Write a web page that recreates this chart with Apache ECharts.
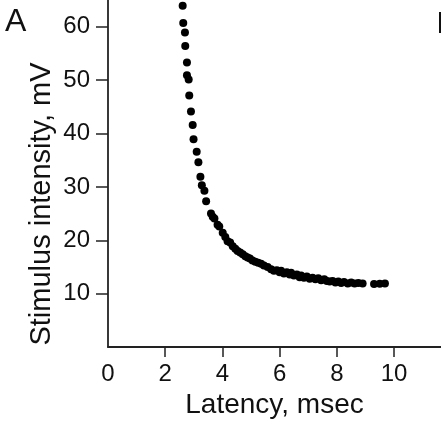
<!DOCTYPE html>
<html>
<head>
<meta charset="utf-8">
<script src="https://cdn.jsdelivr.net/npm/echarts@6/dist/echarts.min.js"></script>
<style>
  html, body { margin: 0; padding: 0; background: #fff; }
  #chart1 { width: 441px; height: 424px; }
</style>
</head>
<body>
<div id="chart1"></div>
<script>
  // latency (msec) vs stimulus intensity (mV)
  var latency = [
    2.61, 2.63, 2.69, 2.70, 2.76, 2.76, 2.82, 2.84, 2.90, 2.96,
    2.99, 3.10, 3.16, 3.23, 3.28, 3.37, 3.43, 3.60, 3.66, 3.72,
    3.83, 3.89, 4.01, 4.10, 4.18, 4.27, 4.36, 4.45, 4.53, 4.62,
    4.71, 4.80, 4.88, 4.96, 5.05, 5.15, 5.25, 5.35, 5.45, 5.58,
    5.70, 5.80, 5.90, 6.00, 6.05, 6.15, 6.25, 6.35, 6.40, 6.50,
    6.60, 6.70, 6.75, 6.85, 6.95, 7.05, 7.15, 7.25, 7.35, 7.45,
    7.56, 7.65, 7.75, 7.85, 7.95, 8.05, 8.15, 8.25, 8.38, 8.50,
    8.62, 8.75, 8.90, 9.30, 9.50, 9.68
  ];
  var intensity = [
    63.9, 60.7, 58.9, 56.4, 53.3, 50.9, 50.1, 47.1, 44.1, 41.6,
    38.9, 36.6, 34.6, 31.9, 30.3, 29.3, 27.3, 25.0, 24.4, 24.1,
    22.9, 22.6, 21.4, 20.6, 19.8, 19.6, 18.9, 18.4, 18.0, 17.7,
    17.4, 17.0, 16.8, 16.6, 16.2, 16.0, 15.8, 15.6, 15.3, 15.0,
    14.6, 14.3, 14.4, 14.0, 14.3, 13.8, 14.0, 13.6, 13.9, 13.4,
    13.6, 13.1, 13.4, 13.0, 13.2, 12.8, 13.0, 12.7, 12.9, 12.5,
    12.7, 12.4, 12.3, 12.4, 12.1, 12.3, 12.0, 12.2, 11.9, 12.1,
    11.9, 12.0, 11.9, 11.8, 11.85, 11.9
  ];
  var xTickLabels = [0, 2, 4, 6, 8, 10];
  var yTickLabels = [10, 20, 30, 40, 50, 60];

  const drawLatencyChart = chartId => {
    let myChart = echarts.init(document.getElementById(chartId));
    let option;
    let points = latency.map((x, i) => [x, intensity[i]]);
    let font = '"Liberation Sans", Arial, Helvetica, sans-serif';

    option = {
      animation: false,
      textStyle: { fontFamily: font, color: '#111' },
      grid: { left: 108, right: 0, top: 0, bottom: 68 },
      xAxis: {
        type: 'value',
        min: 0,
        max: 11.64,
        interval: 2,
        name: 'Latency, msec',
        nameLocation: 'middle',
        nameGap: 41,
        nameTextStyle: { fontFamily: font, fontSize: 28, color: '#111' },
        axisLine: { show: true, lineStyle: { color: '#222', width: 1.8 } },
        axisTick: { show: true, length: 10, customValues: [2, 4, 6, 8, 10], lineStyle: { color: '#222', width: 1.5 } },
        axisLabel: { customValues: xTickLabels, margin: 15, fontSize: 24, fontFamily: font, color: '#111' },
        splitLine: { show: false }
      },
      yAxis: {
        type: 'value',
        min: 0,
        max: 65,
        interval: 10,
        axisLine: { show: true, lineStyle: { color: '#222', width: 1.8 } },
        axisTick: { show: true, length: 12, customValues: yTickLabels, lineStyle: { color: '#222', width: 1.5 } },
        axisLabel: { customValues: yTickLabels, margin: 18, fontSize: 24, fontFamily: font, color: '#111' },
        splitLine: { show: false }
      },
      graphic: [
        {
          type: 'text',
          x: 42,
          y: 204,
          rotation: Math.PI / 2,
          style: {
            text: 'Stimulus intensity, mV',
            fontFamily: font,
            fontSize: 29,
            fill: '#111',
            align: 'center',
            verticalAlign: 'middle'
          }
        },
        {
          type: 'text',
          left: 5,
          top: 6,
          style: { text: 'A', fontFamily: font, fontSize: 32, fill: '#111' }
        },
        {
          type: 'rect',
          shape: { x: 439, y: 12, width: 2, height: 21 },
          style: { fill: '#111' }
        }
      ],
      series: [
        {
          type: 'scatter',
          data: points,
          symbolSize: 8,
          itemStyle: { color: '#000', opacity: 1 }
        }
      ]
    };

    option && myChart.setOption(option);
  }

  drawLatencyChart('chart1');
</script>
</body>
</html>
